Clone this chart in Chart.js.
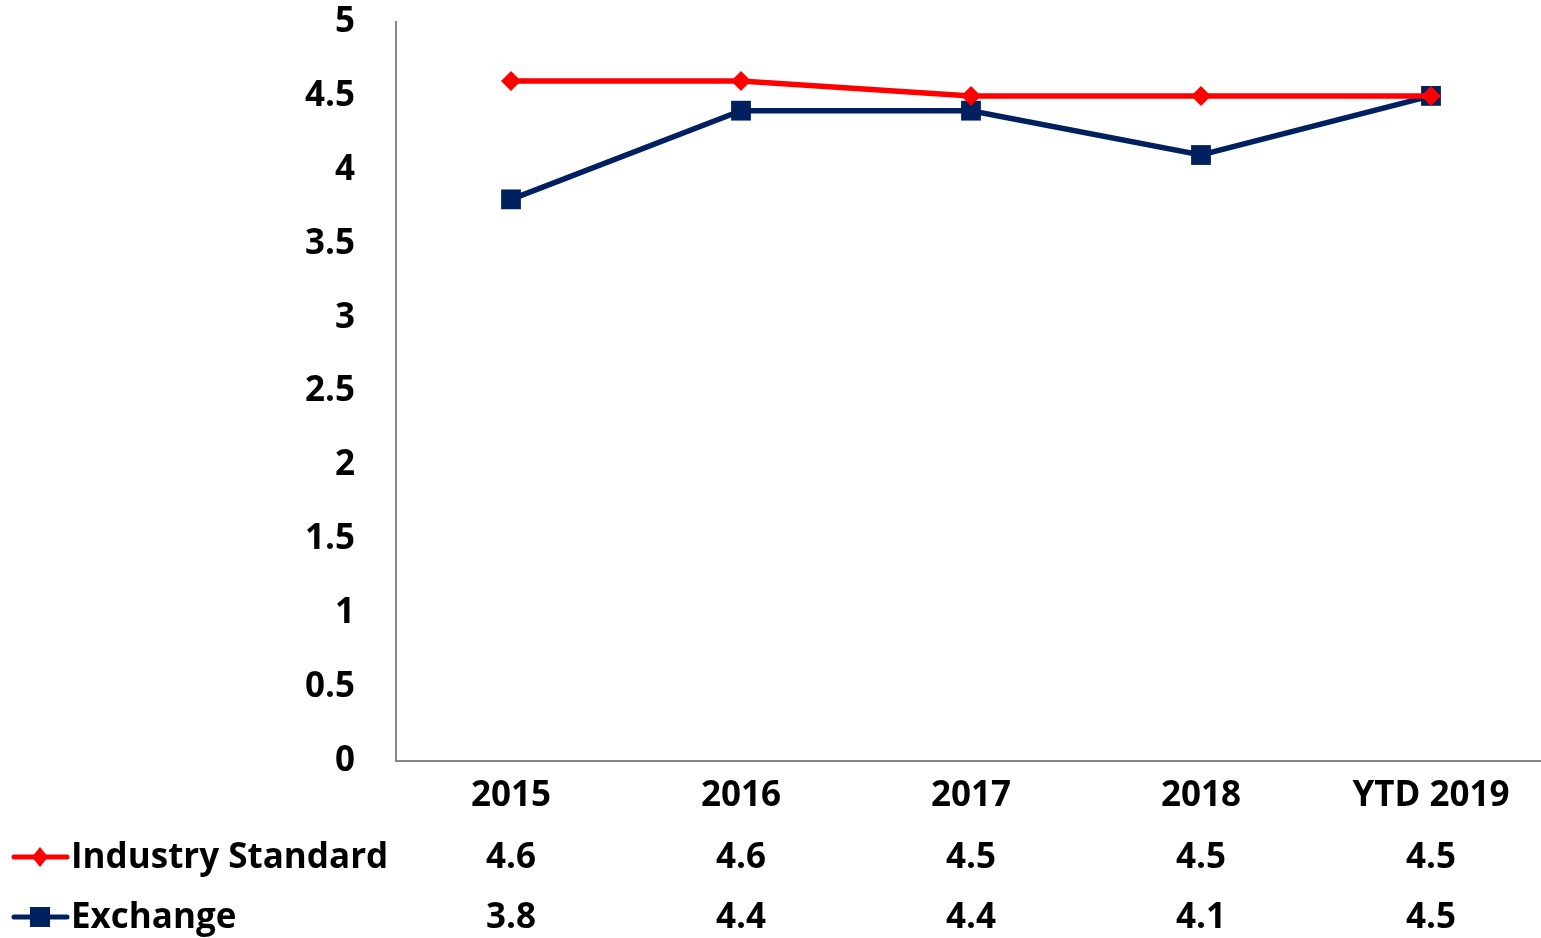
<!DOCTYPE html>
<html lang="en">
  <head>
    <meta charset="UTF-8" />
    <title>Industry Standard vs Exchange</title>
    <script src="https://cdn.jsdelivr.net/npm/chart.js"></script>
    <style>
      html,
      body {
        margin: 0;
        padding: 0;
        background: #fff;
        overflow: hidden;
      }
      /* plot runs a few px past the right edge of the window, as in the original */
      #wrap {
        width: 1546px;
        height: 938px;
      }
    </style>
  </head>
  <body>
    <div id="wrap"><canvas id="lineChart"></canvas></div>
    <script>
      // chart data
      const categories = ['2015', '2016', '2017', '2018', 'YTD 2019']
      const industryStandard = [4.6, 4.6, 4.5, 4.5, 4.5]
      const exchange = [3.8, 4.4, 4.4, 4.1, 4.5]
      const seriesNames = ['Industry Standard', 'Exchange']

      const FONT = '"Open Sans", Lato, sans-serif'
      const FONT_SIZE = 35
      const RED = '#ff0000'
      const NAVY = '#002060'

      // data table under the x axis (legend key + values)
      const dataTable = {
        id: 'dataTable',
        afterDraw(chart) {
          const ctx = chart.ctx
          const x = chart.scales.x
          const rows = [
            { data: industryStandard, color: RED, style: 'diamond', y: 858 },
            { data: exchange, color: NAVY, style: 'square', y: 918 }
          ]
          ctx.save()
          ctx.font = 'bold ' + FONT_SIZE + 'px ' + FONT
          ctx.textBaseline = 'middle'
          rows.forEach((row, r) => {
            // key line
            ctx.strokeStyle = row.color
            ctx.lineWidth = 5
            ctx.lineCap = 'round'
            ctx.beginPath()
            ctx.moveTo(14, row.y - 1)
            ctx.lineTo(67, row.y - 1)
            ctx.stroke()
            ctx.fillStyle = row.color
            if (row.style === 'square') {
              ctx.fillRect(30, row.y - 11, 20, 20)
            } else {
              ctx.beginPath()
              ctx.moveTo(40, row.y - 11)
              ctx.lineTo(48, row.y - 1)
              ctx.lineTo(40, row.y + 9)
              ctx.lineTo(32, row.y - 1)
              ctx.closePath()
              ctx.fill()
            }
            ctx.fillStyle = '#000'
            ctx.textAlign = 'left'
            ctx.fillText(seriesNames[r], 71, row.y)
            ctx.textAlign = 'center'
            row.data.forEach((v, i) => {
              ctx.fillText(v.toFixed(1), x.getPixelForValue(i), row.y)
            })
          })
          ctx.restore()
        }
      }

      const ctx = document.getElementById('lineChart').getContext('2d')
      new Chart(ctx, {
        type: 'line',
        data: {
          labels: categories,
          datasets: [
            {
              label: seriesNames[0],
              data: industryStandard,
              borderColor: RED,
              backgroundColor: RED,
              borderWidth: 5.5,
              pointStyle: 'rectRot',
              pointRadius: 10,
              pointBorderWidth: 0,
              tension: 0
            },
            {
              label: seriesNames[1],
              data: exchange,
              borderColor: NAVY,
              backgroundColor: NAVY,
              borderWidth: 5.5,
              pointStyle: 'rect',
              pointRadius: 14,
              pointBorderWidth: 0,
              tension: 0
            }
          ]
        },
        options: {
          responsive: true,
          maintainAspectRatio: false,
          animation: false,
          layout: {
            autoPadding: false,
            padding: { top: 22, left: 0, right: 0, bottom: 0 }
          },
          plugins: {
            legend: { display: false },
            tooltip: { enabled: false }
          },
          scales: {
            x: {
              offset: true,
              grid: { display: false, drawTicks: false },
              border: { display: true, color: '#888', width: 2 },
              ticks: {
                color: '#000',
                padding: 14,
                maxRotation: 0,
                font: { family: FONT, size: FONT_SIZE, weight: 'bold' }
              },
              afterFit(scale) {
                scale.height = 177
                scale.paddingLeft = 0
                scale.paddingRight = 0
              }
            },
            y: {
              min: 0,
              max: 5,
              grid: { display: false, drawTicks: false },
              border: { display: true, color: '#888', width: 2 },
              ticks: {
                stepSize: 0.5,
                color: '#000',
                padding: 41,
                font: { family: FONT, size: FONT_SIZE, weight: 'bold' },
                callback: value => String(value)
              },
              afterFit(scale) {
                scale.width = 396
                scale.paddingTop = 0
                scale.paddingBottom = 0
              }
            }
          }
        },
        plugins: [dataTable]
      })
    </script>
  </body>
</html>
